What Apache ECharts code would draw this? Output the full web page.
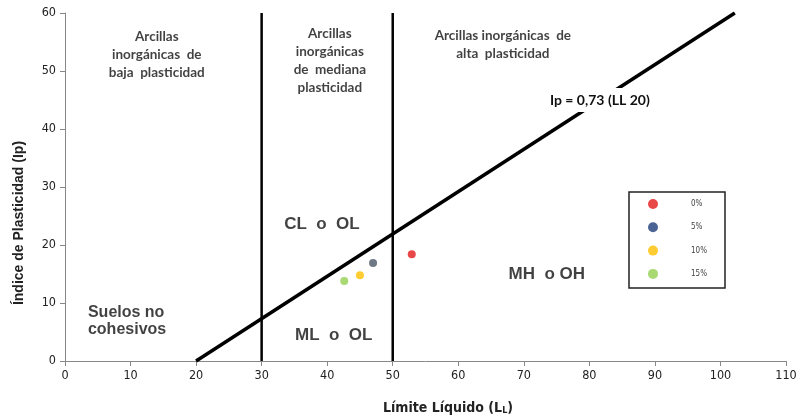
<!DOCTYPE html>
<html>
<head>
<meta charset="utf-8">
<script src="https://cdn.jsdelivr.net/npm/echarts@6/dist/echarts.min.js"></script>
<style>html,body{margin:0;padding:0;background:#fff;}#c{width:800px;height:419px;}</style>
</head>
<body>
<div id="c"></div>
<script>
// Data
const xTicks = [0,10,20,30,40,50,60,70,80,90,100,110];
const yTicks = [0,10,20,30,40,50,60];
const seriesNames = ['0%','5%','10%','15%'];
const pointLL = [52.9, 47.0, 45.0, 42.6];
const pointIp = [18.4, 16.9, 14.8, 13.8];
const aLineLL = [20, 102.19];
const aLineIp = [0, 60];
const limitLL = [30, 50];
const limitIpRange = [0, 60];
const annotTexts = [
  'Arcillas\ninorgánicas  de\nbaja  plasticidad',
  'Arcillas\ninorgánicas\nde  mediana\nplasticidad',
  'Arcillas inorgánicas  de\nalta  plasticidad'
];
const annotLL = [14.0, 40.4, 66.8];
const annotIp = [52.8, 51.8, 54.5];
const eqText = 'Ip = 0,73 (LL 20)';
const eqLL = 81.6, eqIp = 45.0;
const zoneTexts = ['CL  o  OL','ML  o  OL','MH  o OH'];
const zoneLL = [39.2, 41.0, 73.5];
const zoneIp = [23.6, 4.5, 15.0];
const soilText = 'Suelos no\ncohesivos';
const soilLL = 3.5, soilIp = 6.8;

const colors = ['#e41a1c','#1f3d78','#ffc000','#92d050'];
const pointColors = ['#e41a1c','#4b5866','#ffc000','#92d050'];
const NARROW = '"DejaVu Sans Condensed", "Liberation Sans", sans-serif';

const chart = echarts.init(document.getElementById('c'));
const series = [];
seriesNames.forEach((n,i)=>{
  series.push({
    name:n, type:'scatter', symbolSize:8,
    itemStyle:{color:colors[i]},
    data:[{value:[pointLL[i], pointIp[i]], itemStyle:{color:pointColors[i]}}],
    z:5
  });
});
series.push({
  type:'line', data:aLineLL.map((x,i)=>[x,aLineIp[i]]), symbol:'none',
  lineStyle:{color:'#000', width:3.5}, silent:true, z:3
});
limitLL.forEach(x=>{
  series.push({
    type:'line', data:limitIpRange.map(y=>[x,y]), symbol:'none',
    lineStyle:{color:'#000', width:2.5}, silent:true, z:3
  });
});
series.push({
  type:'scatter', symbolSize:0, silent:true,
  data:annotTexts.map((t,i)=>({value:[annotLL[i],annotIp[i]], name:t})),
  label:{show:true, position:'inside', formatter:p=>p.name, fontFamily:'Lato', fontWeight:'bold', fontSize:13.5, lineHeight:18, color:'#111', align:'center', verticalAlign:'middle'}
});
series.push({
  type:'scatter', symbolSize:0, silent:true,
  data:zoneTexts.map((t,i)=>({value:[zoneLL[i],zoneIp[i]], name:t})),
  label:{show:true, position:'inside', formatter:p=>p.name, fontFamily:'Liberation Sans', fontWeight:'bold', fontSize:17, color:'#111', align:'center', verticalAlign:'middle'}
});
series.push({
  type:'scatter', symbolSize:0, silent:true,
  data:[{value:[soilLL,soilIp], name:soilText}],
  label:{show:true, position:'inside', formatter:p=>p.name, fontFamily:'Liberation Sans', fontWeight:'bold', fontSize:16, lineHeight:17, color:'#111', align:'left', verticalAlign:'middle'}
});

chart.setOption({
  animation:false,
  backgroundColor:'#fff',
  grid:{left:65, right:14, top:13, bottom:58},
  xAxis:{
    type:'value', min:xTicks[0], max:xTicks[xTicks.length-1], interval:10,
    axisLine:{show:true, lineStyle:{color:'#888', width:1}},
    axisTick:{show:true, length:5, lineStyle:{color:'#888'}},
    splitLine:{show:false},
    axisLabel:{fontFamily:NARROW, fontSize:12.5, color:'#222', margin:8}
  },
  yAxis:{
    type:'value', min:yTicks[0], max:yTicks[yTicks.length-1], interval:10,
    axisLine:{show:true, lineStyle:{color:'#888', width:1}},
    axisTick:{show:true, length:5, lineStyle:{color:'#888'}},
    splitLine:{show:false},
    axisLabel:{fontFamily:NARROW, fontSize:12.5, color:'#222', margin:9}
  },
  legend:{
    data:seriesNames, orient:'vertical', left:629, top:192,
    itemWidth:10, itemHeight:10, itemGap:13.3, icon:'circle',
    padding:[7,18,9,19],
    borderColor:'#222', borderWidth:1.5,
    textStyle:{fontFamily:NARROW, fontSize:8, color:'#444', padding:[0,0,0,28]},
    selectedMode:false
  },
  graphic:[
    {type:'text', x:19, y:223, rotation:Math.PI/2, style:{text:'Índice de Plasticidad (Ip)', font:'bold 14px "Liberation Sans"', fill:'#222', align:'center', verticalAlign:'middle'}},
    {type:'text', x:448, y:408, style:{
      text:'{a|Límite Líquido (L}{s|L}{a|)}', align:'center', verticalAlign:'middle',
      rich:{a:{fontFamily:NARROW, fontWeight:'bold', fontSize:14, fill:'#222', color:'#222'},
            s:{fontFamily:NARROW, fontWeight:'bold', fontSize:9, fill:'#222', color:'#222', verticalAlign:'bottom', padding:[4,0,0,0]}}
    }}
  ],
  series:series
});
const eqPos = chart.convertToPixel({gridIndex:0}, [eqLL, eqIp]);
chart.setOption({
  graphic:[
    {type:'text', x:19, y:223, rotation:Math.PI/2, style:{text:'Índice de Plasticidad (Ip)', font:'bold 14px "Liberation Sans"', fill:'#222', align:'center', verticalAlign:'middle'}},
    {type:'text', x:448, y:408, style:{
      text:'{a|Límite Líquido (L}{s|L}{a|)}', align:'center', verticalAlign:'middle',
      rich:{a:{fontFamily:NARROW, fontWeight:'bold', fontSize:14, fill:'#222', color:'#222'},
            s:{fontFamily:NARROW, fontWeight:'bold', fontSize:9, fill:'#222', color:'#222', verticalAlign:'bottom', padding:[4,0,0,0]}}
    }},
    {type:'text', x:eqPos[0], y:eqPos[1], z:100, style:{text:eqText, font:'bold 14px Lato', fill:'#111', align:'center', verticalAlign:'middle', backgroundColor:'#fff', padding:[5,3,5,3]}}
  ]
});
</script>
</body>
</html>
